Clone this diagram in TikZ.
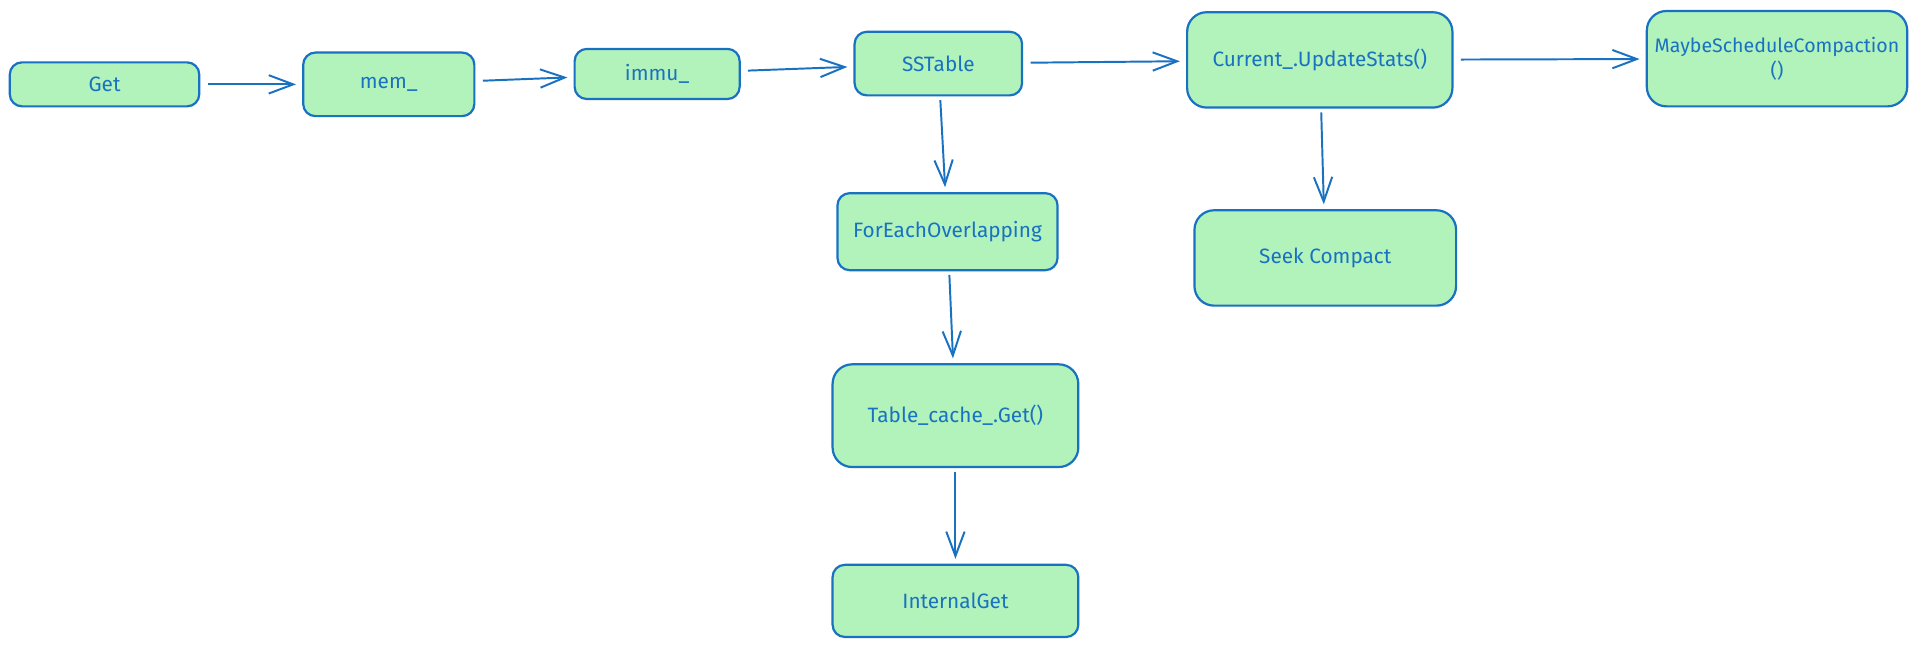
\documentclass[tikz,border=0pt]{standalone}
\usepackage{fontspec}
\setmainfont{Fira Sans}
\usepackage{tikz}
\usetikzlibrary{arrows.meta, positioning, shapes}

\definecolor{callfill}{HTML}{B2F2BB}
\definecolor{callline}{HTML}{1971C2}

\tikzset{
	call/.style={draw=callline, fill=callfill, line width=0.9pt, rounded corners=5pt,
		text=callline, font=\fontsize{8.5}{10.5}\selectfont, align=center, inner sep=0pt},
	bigcall/.style={call, rounded corners=8pt},
	flow/.style={draw=callline, line width=0.8pt, -{Straight Barb[length=10pt,width=7.5pt,line width=0.8pt]},
		shorten >=2.5pt, shorten <=3pt},
	down/.style={shorten >=2pt, shorten <=1.5pt}
}

\begin{document}
\begin{tikzpicture}[x=0.5pt, y=-0.5pt]
		\path[use as bounding box, fill=white] (0,0) rectangle (1568,530);

		% top row
		\node[call, minimum width=77.5pt, minimum height=18pt] (get) at (85.5,69) {Get};
		\node[call, minimum width=70pt, minimum height=26pt] (mem) at (318,69) {mem\_};
		\node[call, minimum width=67.5pt, minimum height=20.5pt] (immu) at (537.5,60.5) {immu\_};
		\node[call, minimum width=68.5pt, minimum height=26pt] (sstable) at (767.5,52) {SSTable};
		\node[bigcall, minimum width=108.5pt, minimum height=39pt] (current) at (1079.5,49) {Current\_.UpdateStats()};
		\node[bigcall, minimum width=106.5pt, minimum height=39pt, font=\fontsize{8}{10}\selectfont] (maybe) at (1453.5,48) {MaybeScheduleCompaction\\()};

		% lookup column
		\node[call, minimum width=90pt, minimum height=31.5pt] (overlap) at (775,189.5) {ForEachOverlapping};
		\node[bigcall, minimum width=100.5pt, minimum height=42pt] (tablecache) at (781.5,340) {Table\_cache\_.Get()};
		\node[call, minimum width=100.5pt, minimum height=29.5pt] (internal) at (781.5,491.5) {InternalGet};

		% compaction
		\node[bigcall, minimum width=107pt, minimum height=39pt] (seek) at (1084,211) {Seek Compact};

		\path[flow]
		(get) edge (mem)
		(mem) edge (immu)
		(immu) edge (sstable)
		(sstable) edge (current)
		(current) edge (maybe)
		(sstable) edge[down] (overlap)
		(overlap) edge[down] (tablecache)
		(tablecache) edge[down] (internal)
		(current) edge[down] (seek)
		;
	\end{tikzpicture}
\end{document}
